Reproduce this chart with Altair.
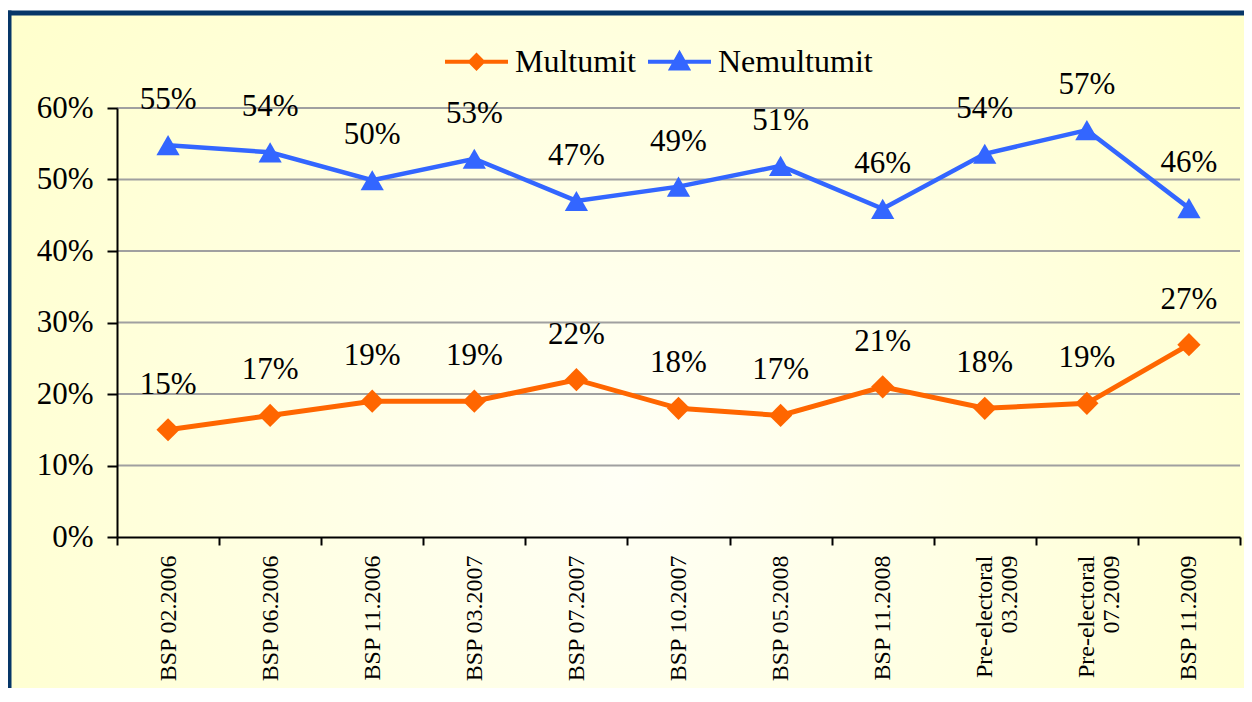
import altair as alt
import pandas as pd

categories = ["BSP 02.2006", "BSP 06.2006", "BSP 11.2006", "BSP 03.2007", "BSP 07.2007",
              "BSP 10.2007", "BSP 05.2008", "BSP 11.2008", "Pre-electoral\n03.2009",
              "Pre-electoral\n07.2009", "BSP 11.2009"]
multumit = [15, 17, 19, 19, 22, 18, 17, 21, 18, 18.7, 26.9]
multumit_labels = ["15%", "17%", "19%", "19%", "22%", "18%", "17%", "21%", "18%", "19%", "27%"]
nemultumit = [54.8, 53.8, 49.9, 52.9, 47, 49, 51.9, 45.9, 53.6, 56.9, 46]
nemultumit_labels = ["55%", "54%", "50%", "53%", "47%", "49%", "51%", "46%", "54%", "57%", "46%"]
series = ["Multumit", "Nemultumit"]
colors = ["#FF6600", "#3366FF"]
y_ticks = [0, 10, 20, 30, 40, 50, 60]

W, H = 1123, 429
PAD = {"left": 109, "top": 100, "right": 4, "bottom": 151}
FONT = "Liberation Serif"
FRAME = "#063668"

df_m = pd.DataFrame({"cat": categories, "value": multumit, "label": multumit_labels})
df_n = pd.DataFrame({"cat": categories, "value": nemultumit, "label": nemultumit_labels})
df_grid = pd.DataFrame({"v": y_ticks[1:]})
df_series = pd.DataFrame({"series": series})
df_one = pd.DataFrame({"a": [0]})

x_scale = alt.Scale(type="band", paddingInner=0, paddingOuter=0, domain=categories)
y_scale = alt.Scale(domain=[0, 60], nice=False, zero=True)

x_axis = alt.Axis(title=None, grid=False, tickBand="extent", labelAngle=270,
                  labelExpr="isValid(datum.value) ? split(datum.value, '\\n') : ''",
                  labelFont=FONT, labelFontSize=24,
                  labelColor="black", labelLineHeight=25, labelPadding=10, tickSize=8,
                  tickWidth=2, tickColor="black", domainColor="black", domainWidth=2,
                  labelOverlap=False, labelBound=False, zindex=1)
y_axis = alt.Axis(title=None, grid=False, values=y_ticks, labelExpr="datum.value + '%'",
                  labelFont=FONT, labelFontSize=31, labelColor="black", labelPadding=14,
                  tickSize=10, tickWidth=2, tickColor="black", domainColor="black",
                  domainWidth=2, labelOverlap=False, zindex=1)

X = alt.X("cat:N", sort=categories, scale=x_scale, axis=x_axis)
Y = alt.Y("value:Q", scale=y_scale, axis=y_axis)

gradient = alt.RadialGradient(
    gradient="radial", x1=0.5, y1=0.6, x2=0.5, y2=0.6, r1=0, r2=0.62,
    stops=[alt.GradientStop(offset=0, color="#FFFFF6"),
           alt.GradientStop(offset=1, color="#FFFFCC")])

x_right = W + PAD["right"]
y_bottom = H + PAD["bottom"]
frame = alt.Chart(df_one).mark_rect(fill=gradient, strokeWidth=0).encode(
    x=alt.value(-108), x2=alt.value(x_right), y=alt.value(-95), y2=alt.value(y_bottom))
frame_left = alt.Chart(df_one).mark_rule(color=FRAME, strokeWidth=5).encode(
    x=alt.value(-108), y=alt.value(-97.5), y2=alt.value(y_bottom))
frame_top = alt.Chart(df_one).mark_rule(color=FRAME, strokeWidth=5).encode(
    x=alt.value(-110.5), x2=alt.value(x_right), y=alt.value(-95))

grid = alt.Chart(df_grid).mark_rule(color="#A0A0A0", strokeWidth=2).encode(
    y=alt.Y("v:Q", scale=y_scale, axis=y_axis), x=alt.value(0), x2=alt.value(W))

def series_layers(df, color, shape, width):
    line = alt.Chart(df).mark_line(color=color, strokeWidth=width).encode(x=X, y=Y)
    pts = alt.Chart(df).mark_point(shape=shape, filled=True, color=color, size=540,
                                   opacity=1).encode(x=X, y=Y)
    txt = alt.Chart(df).mark_text(font=FONT, fontSize=31, color="black", dy=-45,
                                  baseline="middle", align="center").encode(
        x=X, y=Y, text="label:N")
    return [line, pts, txt]

path_m = "M-1,-0.065H1V0.065H-1Z M-0.29,0L0,-0.29L0.29,0L0,0.29Z"
path_n = "M-1,-0.065H1V0.065H-1Z M0,-0.38L0.37,0.28H-0.37Z"

legend = alt.Legend(orient="none", legendX=328, legendY=-78, direction="horizontal",
                    title=None, symbolSize=3969, symbolStrokeWidth=0, labelFont=FONT,
                    labelFontSize=32, labelColor="black", labelOffset=7, columnPadding=12,
                    padding=0)

legend_layer = alt.Chart(df_series).transform_filter("false").mark_point(
    filled=True, opacity=1).encode(
    color=alt.Color("series:N", scale=alt.Scale(domain=series, range=colors), legend=legend),
    shape=alt.Shape("series:N", scale=alt.Scale(domain=series, range=[path_m, path_n]),
                    legend=legend))

layers = [frame, frame_left, frame_top, grid] + \
         series_layers(df_m, colors[0], "diamond", 5) + \
         series_layers(df_n, colors[1], "triangle-up", 4.5) + [legend_layer]

chart = alt.layer(*layers).properties(
    width=W, height=H,
    autosize=alt.AutoSizeParams(type="none"),
    padding=PAD,
    background="white",
).configure_view(stroke=None)

chart.save("out.html", embed_options={"renderer": "svg", "actions": False})
